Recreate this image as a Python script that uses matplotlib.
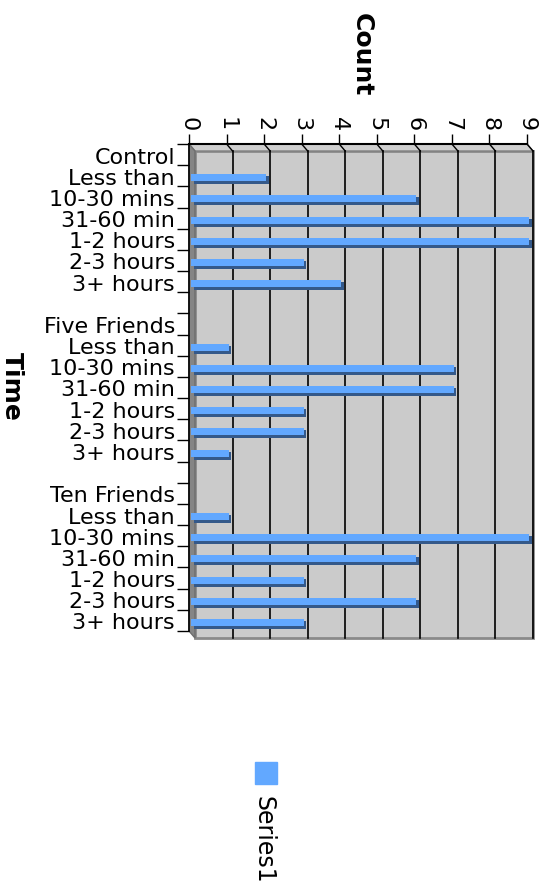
import numpy as np
import matplotlib.pyplot as plt
from matplotlib.patches import Rectangle, Polygon

# data
groups = ['Control', 'Five Friends', 'Ten Friends']
times = ['Less than', '10-30 mins', '31-60 min', '1-2 hours', '2-3 hours', '3+ hours']
control = [2, 6, 9, 9, 3, 4]
five_friends = [1, 7, 7, 3, 3, 1]
ten_friends = [1, 9, 6, 3, 6, 3]
count_ticks = list(range(10))

# build the category rows: group name, its six times, then a blank row
labels = []
bar_pos = []
bar_val = []
for g, vals in zip(groups, [control, five_friends, ten_friends]):
    if labels:
        labels.append('')
    labels.append(g)
    for t, v in zip(times, vals):
        bar_pos.append(len(labels))
        bar_val.append(v)
        labels.append(t)
n = len(labels)
bar_pos = np.array(bar_pos, dtype=float)
bar_val = np.array(bar_val, dtype=float)

W, H = 550, 895
fig = plt.figure(figsize=(W / 100, H / 100), dpi=100)
ax_l, ax_t, ax_w, ax_h = 189, 145, 338, 487
ax = fig.add_axes([ax_l / W, 1 - (ax_t + ax_h) / H, ax_w / W, ax_h / H])
ax.patch.set_visible(False)

xmax = count_ticks[-1]
ax.set_xlim(0, xmax)
ax.set_ylim(n - 0.5, -0.5)

# pixel -> data unit helpers for the 3d look
sx = xmax / ax_w
sy = n / ax_h
ox, oy = 6 * sx, 7 * sy
top, bot = -0.5, n - 0.5

# back wall
ax.add_patch(Rectangle((ox, top + oy), xmax, n, facecolor='#CBCBCB',
                       edgecolor='#8A8A8A', lw=2, zorder=0, clip_on=False))
# top floor strip
ax.add_patch(Polygon([(0, top), (xmax, top), (xmax + ox, top + oy), (ox, top + oy)],
                     closed=True, facecolor='#CFCFCF', edgecolor='#808080',
                     lw=1, zorder=0.5, clip_on=False))
# left side strip
ax.add_patch(Polygon([(0, top), (ox, top + oy), (ox, bot + oy), (0, bot)],
                     closed=True, facecolor='#858585', edgecolor='#6E6E6E',
                     lw=1, zorder=0.5, clip_on=False))

# grid lines on the wall
for k in count_ticks[1:]:
    ax.plot([k + ox, k + ox], [top + oy, bot + oy], color='black', lw=1.2,
            zorder=1, clip_on=False)
    ax.plot([k, k + ox], [top, top + oy], color='black', lw=1,
            zorder=1, clip_on=False)

# bars with a dark shadow
ax.barh(bar_pos + 4.5 * sy, bar_val, left=4.5 * sx, height=8 * sy,
        color='#34598A', zorder=2, clip_on=False)
ax.barh(bar_pos + 2 * sy, bar_val, left=2 * sx, height=7 * sy,
        color='#62A8FF', zorder=3, clip_on=False)

# spines
for s in ['right', 'bottom']:
    ax.spines[s].set_visible(False)
ax.spines['left'].set_linewidth(1.2)
ax.spines['top'].set_linewidth(1.5)

# count axis on top
ax.xaxis.tick_top()
ax.set_xticks(count_ticks)
ax.set_xticklabels([str(c) for c in count_ticks], rotation=-90, fontsize=16)
ax.tick_params(axis='x', length=7.2, width=1, pad=3)

# category axis
ax.set_yticks(range(n))
ax.set_yticklabels(labels, fontsize=16)
ax.set_yticks(np.arange(-0.5, n, 1), minor=True)
ax.tick_params(axis='y', which='major', length=0, pad=10)
ax.tick_params(axis='y', which='minor', length=8.6, width=1)

fig.text(362 / W, 1 - 55 / H, 'Count', rotation=-90, fontsize=18,
         fontweight='bold', ha='center', va='center')
fig.text(12 / W, 1 - 386 / H, 'Time', rotation=-90, fontsize=18,
         fontweight='bold', ha='center', va='center')

# legend
fig.patches.append(Rectangle((255 / W, 1 - 785 / H), 22 / W, 22 / H,
                             transform=fig.transFigure, color='#62A8FF'))
fig.text(264 / W, 1 - 840 / H, 'Series1', rotation=-90, fontsize=17,
         ha='center', va='center')

fig.savefig('out.png', dpi=100)
